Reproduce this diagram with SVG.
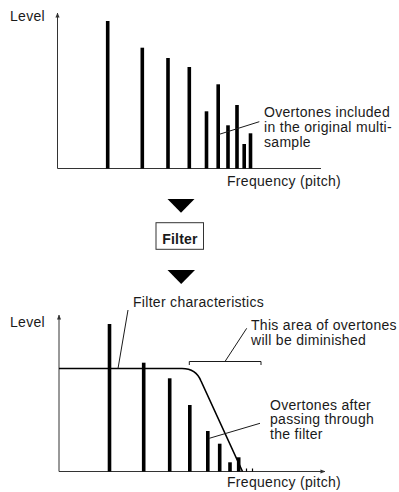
<svg xmlns="http://www.w3.org/2000/svg" width="399" height="492" viewBox="0 0 399 492">
<defs>
<style>
text{font-family:"Liberation Sans",Arial,sans-serif;font-size:14px;letter-spacing:0.3px;fill:#1a1a1a}
.b{font-weight:bold;letter-spacing:0.2px}
.ax{stroke:#333;stroke-width:1;fill:none}
.bar{fill:#000}
.ld{stroke:#1a1a1a;stroke-width:1;fill:none}
.tick{stroke:#000;stroke-width:1.2}
</style>
<marker id="ah" viewBox="0 0 6 6" refX="5.5" refY="3" markerWidth="5" markerHeight="5" orient="auto" markerUnits="userSpaceOnUse">
<path d="M0,0.5 L6,3 L0,5.5 Z" fill="#333"/>
</marker>
</defs>
<rect width="399" height="492" fill="#fff"/>

<g id="chart-top">
<path class="ax" d="M57.5,168.5 V13" marker-end="url(#ah)"/>
<path class="ax" d="M57.5,168.5 H321"/>
<g id="bars-top">
<rect class="bar" x="105.9" y="21" width="3.6" height="147.5"/>
<rect class="bar" x="140.5" y="47.7" width="3.6" height="120.8"/>
<rect class="bar" x="166.2" y="58" width="3.6" height="110.5"/>
<rect class="bar" x="187.5" y="67" width="3.6" height="101.5"/>
<rect class="bar" x="204.7" y="111.3" width="3.6" height="57.2"/>
<rect class="bar" x="216.4" y="84.3" width="3.6" height="84.2"/>
<rect class="bar" x="226.2" y="125.3" width="3.6" height="43.2"/>
<rect class="bar" x="235.2" y="105" width="3.6" height="63.5"/>
<rect class="bar" x="242.4" y="144" width="3.6" height="24.5"/>
<rect class="bar" x="248.7" y="133.3" width="3.6" height="35.2"/>
</g>
<text x="10" y="21">Level</text>
<text x="227" y="185.5">Frequency (pitch)</text>
<text x="264" y="117">Overtones included</text>
<text x="264" y="131.8">in the original multi-</text>
<text x="264" y="146.6">sample</text>
</g>

<g id="arrow-1"><path d="M167.5,199 H194.5 L181,212.7 Z" fill="#000"/></g>
<g id="filter-box">
<rect x="156" y="222.7" width="47.5" height="26.6" fill="#fff" stroke="#333" stroke-width="1"/>
<text class="b" x="180" y="244" text-anchor="middle">Filter</text>
</g>
<g id="arrow-2"><path d="M167.5,270 H195 L181.2,284 Z" fill="#000"/></g>

<g id="chart-bottom">
<path class="ax" d="M59,471.5 V315" marker-end="url(#ah)"/>
<path class="ax" d="M59,471.5 H325" marker-end="url(#ah)"/>
<g id="bars-bottom">
<rect class="bar" x="107.7" y="324" width="3.6" height="147.5"/>
<rect class="bar" x="141.9" y="362.7" width="3.6" height="108.8"/>
<rect class="bar" x="167.9" y="378.3" width="3.6" height="93.2"/>
<rect class="bar" x="188" y="405" width="3.6" height="66.5"/>
<rect class="bar" x="206" y="431" width="3.6" height="40.5"/>
<rect class="bar" x="217.9" y="443.7" width="3.6" height="27.8"/>
<rect class="bar" x="228.2" y="462.3" width="3.6" height="9.2"/>
<rect class="bar" x="236.9" y="457.3" width="3.6" height="14.2"/>
<line class="tick" x1="246.5" y1="468.5" x2="246.5" y2="471.5"/>
<line class="tick" x1="252.5" y1="468.5" x2="252.5" y2="471.5"/>
</g>
<path id="filter-curve" d="M59,368.5 H182 Q196,368.5 201,381 L242.5,471.5" fill="none" stroke="#000" stroke-width="1.6"/>
<path class="ld" d="M189.3,365 V361.5 H261 V365"/>
<text x="133" y="306.5">Filter characteristics</text>
<text x="10" y="326.5">Level</text>
<text x="251" y="330">This area of overtones</text>
<text x="251" y="345">will be diminished</text>
<text x="270" y="409.5">Overtones after</text>
<text x="270" y="424.3">passing through</text>
<text x="270" y="439">the filter</text>
<text x="227" y="487">Frequency (pitch)</text>
</g>

<g id="connectors">
<line class="ld" x1="219.3" y1="134.3" x2="259.3" y2="121.7"/>
<line class="ld" x1="128" y1="310" x2="118" y2="368.5"/>
<line class="ld" x1="225" y1="361.5" x2="246.7" y2="328.3"/>
<line class="ld" x1="209.3" y1="438.3" x2="260" y2="423.3"/>
</g>
</svg>
